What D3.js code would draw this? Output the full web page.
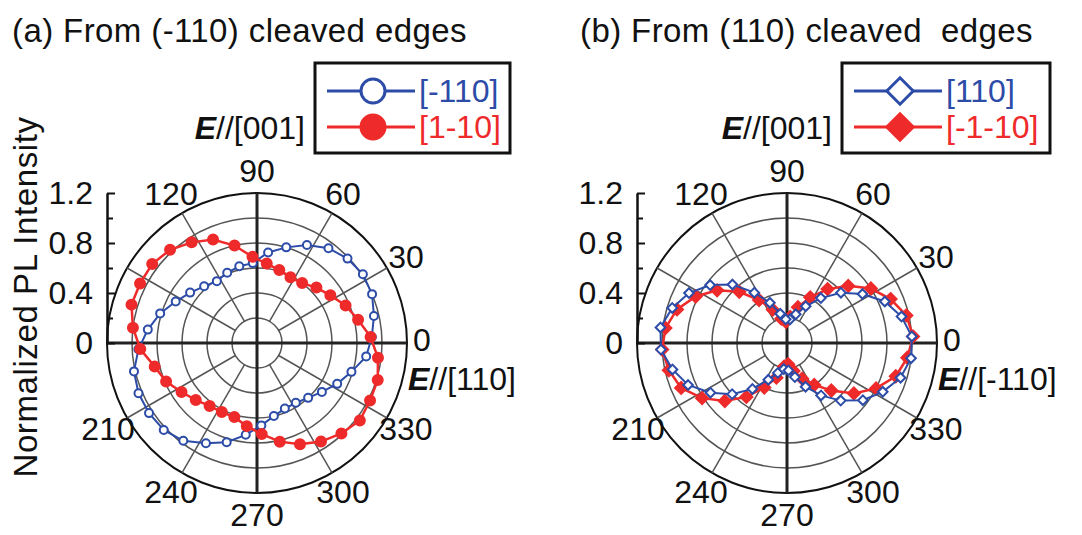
<!DOCTYPE html>
<html>
<head>
<meta charset="utf-8">
<script src="https://cdn.jsdelivr.net/npm/d3@7"></script>
<style>
  body { margin: 0; background: #fff; }
  svg text { font-family: "Liberation Sans", Arial, sans-serif; fill: #111; white-space: pre; }
</style>
</head>
<body>
<div id="chart"></div>
<script>
// measurement angles (deg)
const angles = [3, 13, 23, 33, 43, 53, 63, 73, 83, 93, 103, 113, 123, 133, 143, 153, 163, 173,
    183, 193, 203, 213, 223, 233, 243, 253, 263, 273, 283, 293, 303, 313, 323, 333, 343, 353]

// (a) from (-110) cleaved edges
const aBlue = [0.92, 0.96, 1.00, 1.01, 0.99, 0.95, 0.88, 0.80, 0.73, 0.64, 0.63, 0.61, 0.59, 0.62, 0.67, 0.73, 0.81, 0.88,
    0.95, 1.01, 1.03, 1.03, 1.02, 0.98, 0.90, 0.83, 0.74, 0.66, 0.60, 0.57, 0.57, 0.60, 0.65, 0.72, 0.79, 0.88]
const aRed = [0.91, 0.83, 0.77, 0.70, 0.65, 0.60, 0.59, 0.61, 0.64, 0.69, 0.80, 0.90, 0.96, 1.02, 1.05, 1.05, 1.05, 1.00,
    0.935, 0.84, 0.79, 0.72, 0.67, 0.63, 0.62, 0.62, 0.67, 0.73, 0.81, 0.88, 0.94, 0.99, 1.03, 1.015, 1.01, 0.975]

// (b) from (110) cleaved edges
const bBlue = [1.00, 0.94, 0.85, 0.72, 0.59, 0.45, 0.33, 0.24, 0.19, 0.19, 0.24, 0.35, 0.48, 0.64, 0.77, 0.88, 0.96, 1.02,
    1.01, 0.94, 0.86, 0.73, 0.60, 0.46, 0.33, 0.25, 0.21, 0.22, 0.28, 0.38, 0.50, 0.63, 0.76, 0.86, 0.95, 1.00]
const bRed = [1.01, 0.98, 0.90, 0.80, 0.67, 0.54, 0.41, 0.30, 0.21, 0.17, 0.20, 0.29, 0.41, 0.56, 0.70, 0.82, 0.92, 0.98,
    1.00, 0.97, 0.92, 0.81, 0.68, 0.54, 0.40, 0.29, 0.19, 0.17, 0.23, 0.31, 0.40, 0.52, 0.67, 0.80, 0.91, 0.97]

const angleTicks = [0, 30, 60, 90, 120, 210, 240, 270, 300, 330]
const spokeAngles = [0, 30, 60, 90, 120, 150, 180, 210, 240, 270, 300, 330]
const rings = [0.2, 0.4, 0.6, 0.8, 1.0, 1.2]
const yMajor = [0, 0.4, 0.8, 1.2]
const yMinor = [0.2, 0.6, 1.0]

const width = 1082
const height = 535
const R = 150
const blue = '#2c4ca8'
const red = '#ee2a2a'

const svg = d3.select('#chart').append('svg')
    .attr('width', width)
    .attr('height', height)
    .attr('viewBox', `0 0 ${width} ${height}`)

const rScale = d3.scaleLinear().domain([0, 1.2]).range([0, R])
const rad = a => a * Math.PI / 180

const panels = [
    {cx: 257, cy: 343, title: '(a) From (-110) cleaved edges', titleX: 12, axis0: '[110]',
        series: [
            {name: '[-110]', vals: aBlue, color: blue, shape: 'circle', fill: '#fff'},
            {name: '[1-10]', vals: aRed, color: red, shape: 'circle', fill: red}
        ], drawOrder: [0, 1], legX: 315, legW: 195},
    {cx: 787, cy: 343, title: '(b) From (110) cleaved  edges', titleX: 580, axis0: '[-110]',
        series: [
            {name: '[110]', vals: bBlue, color: blue, shape: 'diamond', fill: '#fff'},
            {name: '[-1-10]', vals: bRed, color: red, shape: 'diamond', fill: red}
        ], drawOrder: [1, 0], legX: 842, legW: 208}
]

const marker = (g, s, size) => {
    if (s.shape === 'circle') {
        return g.append('circle').attr('r', size)
    }
    return g.append('path').attr('d', `M0,${-size * 1.2}L${size * 1.2},0L0,${size * 1.2}L${-size * 1.2},0Z`)
}

panels.forEach(p => {
    const g = svg.append('g').attr('transform', `translate(${p.cx},${p.cy})`)

    // rings
    g.append('g').selectAll('circle')
        .data(rings)
        .join('circle')
        .attr('r', d => rScale(d))
        .attr('fill', 'none')
        .attr('stroke', d => d === 1.2 ? '#111' : '#555')
        .attr('stroke-width', d => d === 1.2 ? 2 : 1.5)

    // spokes
    g.append('g').selectAll('line')
        .data(spokeAngles.filter(a => a % 90 !== 0))
        .join('line')
        .attr('x1', a => rScale(0.2) * Math.cos(rad(a)))
        .attr('y1', a => -rScale(0.2) * Math.sin(rad(a)))
        .attr('x2', a => R * Math.cos(rad(a)))
        .attr('y2', a => -R * Math.sin(rad(a)))
        .attr('stroke', '#555')
        .attr('stroke-width', 1.5)

    // main cross
    g.append('line').attr('x1', -R).attr('x2', R).attr('y1', 0).attr('y2', 0)
        .attr('stroke', '#222').attr('stroke-width', 3)
    g.append('line').attr('x1', 0).attr('x2', 0).attr('y1', -R).attr('y2', R)
        .attr('stroke', '#222').attr('stroke-width', 3)

    // y axis on the left
    const yScale = d3.scaleLinear().domain([0, 1.2]).range([0, -R])
    g.append('g')
        .attr('transform', `translate(${-R},0)`)
        .call(d3.axisLeft(yScale).tickValues(yMajor).tickSize(-8).tickSizeOuter(0).tickPadding(14)
            .tickFormat(d => d === 0 ? '0' : d3.format('.1f')(d)))
        .call(a => a.select('.domain').attr('stroke', '#111').attr('stroke-width', 2.5))
        .call(a => a.selectAll('.tick line').attr('stroke', '#111').attr('stroke-width', 2))
        .call(a => a.selectAll('.tick text').attr('font-size', 32).attr('fill', '#111')
            .attr('font-family', '"Liberation Sans", Arial, sans-serif'))
    g.append('g')
        .attr('transform', `translate(${-R},0)`)
        .call(d3.axisLeft(yScale).tickValues(yMinor).tickSize(-6).tickSizeOuter(0).tickFormat(''))
        .call(a => a.select('.domain').remove())
        .call(a => a.selectAll('.tick line').attr('stroke', '#111').attr('stroke-width', 2))

    // angle labels
    g.append('g').selectAll('text')
        .data(angleTicks)
        .join('text')
        .attr('x', a => a === 0 ? R + 6 : 172 * Math.cos(rad(a)))
        .attr('y', a => a === 0 ? -3 : -172 * Math.sin(rad(a)))
        .attr('text-anchor', a => a === 0 ? 'start' : 'middle')
        .attr('dominant-baseline', 'central')
        .attr('font-size', 32)
        .text(a => a)

    // data curves
    const line = d3.lineRadial()
        .angle(d => rad(90 - d[0]))
        .radius(d => rScale(d[1]))
        .curve(d3.curveLinearClosed)

    p.drawOrder.forEach(i => {
        const s = p.series[i]
        const pts = angles.map((a, k) => [a, s.vals[k]])
        g.append('path')
            .datum(pts)
            .attr('d', line)
            .attr('fill', 'none')
            .attr('stroke', s.color)
            .attr('stroke-width', s.fill === '#fff' ? 2 : 2.5)
        const mg = g.append('g')
        pts.forEach(d => {
            const m = marker(mg, s, s.fill === '#fff' ? 4 : 5)
            m.attr('transform', `translate(${rScale(d[1]) * Math.cos(rad(d[0]))},${-rScale(d[1]) * Math.sin(rad(d[0]))})`)
                .attr('fill', s.fill)
                .attr('stroke', s.color)
                .attr('stroke-width', 2)
        })
    })

    // title
    svg.append('text')
        .attr('x', p.titleX)
        .attr('y', 42)
        .attr('font-size', 33)
        .attr('letter-spacing', 0.4)
        .text(p.title)

    // E//[001] label
    const e1 = svg.append('text')
        .attr('x', p.legX - 10)
        .attr('y', 139)
        .attr('text-anchor', 'end')
        .attr('font-size', 32)
    e1.append('tspan').attr('font-weight', 'bold').attr('font-style', 'italic').text('E')
    e1.append('tspan').text('//[001]')

    // E//[..] at 0 deg
    const e2 = svg.append('text')
        .attr('x', p.cx + R + 1)
        .attr('y', p.cy + 47)
        .attr('font-size', 32)
    e2.append('tspan').attr('font-weight', 'bold').attr('font-style', 'italic').text('E')
    e2.append('tspan').text('//' + p.axis0)

    // legend
    const leg = svg.append('g').attr('transform', `translate(${p.legX},63)`)
    leg.append('rect')
        .attr('width', p.legW).attr('height', 90)
        .attr('fill', '#fff').attr('stroke', '#111').attr('stroke-width', 3)
    p.series.forEach((s, i) => {
        const yy = i === 0 ? 28 : 64
        const lg = leg.append('g').attr('transform', `translate(0,${yy})`)
        lg.append('line').attr('x1', 12).attr('x2', 100).attr('y1', 0).attr('y2', 0)
            .attr('stroke', s.color).attr('stroke-width', 3)
        const m = marker(lg, s, s.shape === 'circle' ? 12 : 11)
        m.attr('transform', 'translate(58,0)')
            .attr('fill', s.fill).attr('stroke', s.color).attr('stroke-width', 3)
        lg.append('text')
            .attr('x', 104)
            .attr('y', 0)
            .attr('dominant-baseline', 'central')
            .attr('font-size', 32)
            .style('fill', s.color)
            .text(s.name)
    })
})

// y axis title
svg.append('text')
    .attr('transform', 'translate(37,297) rotate(-90)')
    .attr('text-anchor', 'middle')
    .attr('font-size', 33)
    .attr('letter-spacing', 0.6)
    .text('Normalized PL Intensity')
</script>
</body>
</html>
